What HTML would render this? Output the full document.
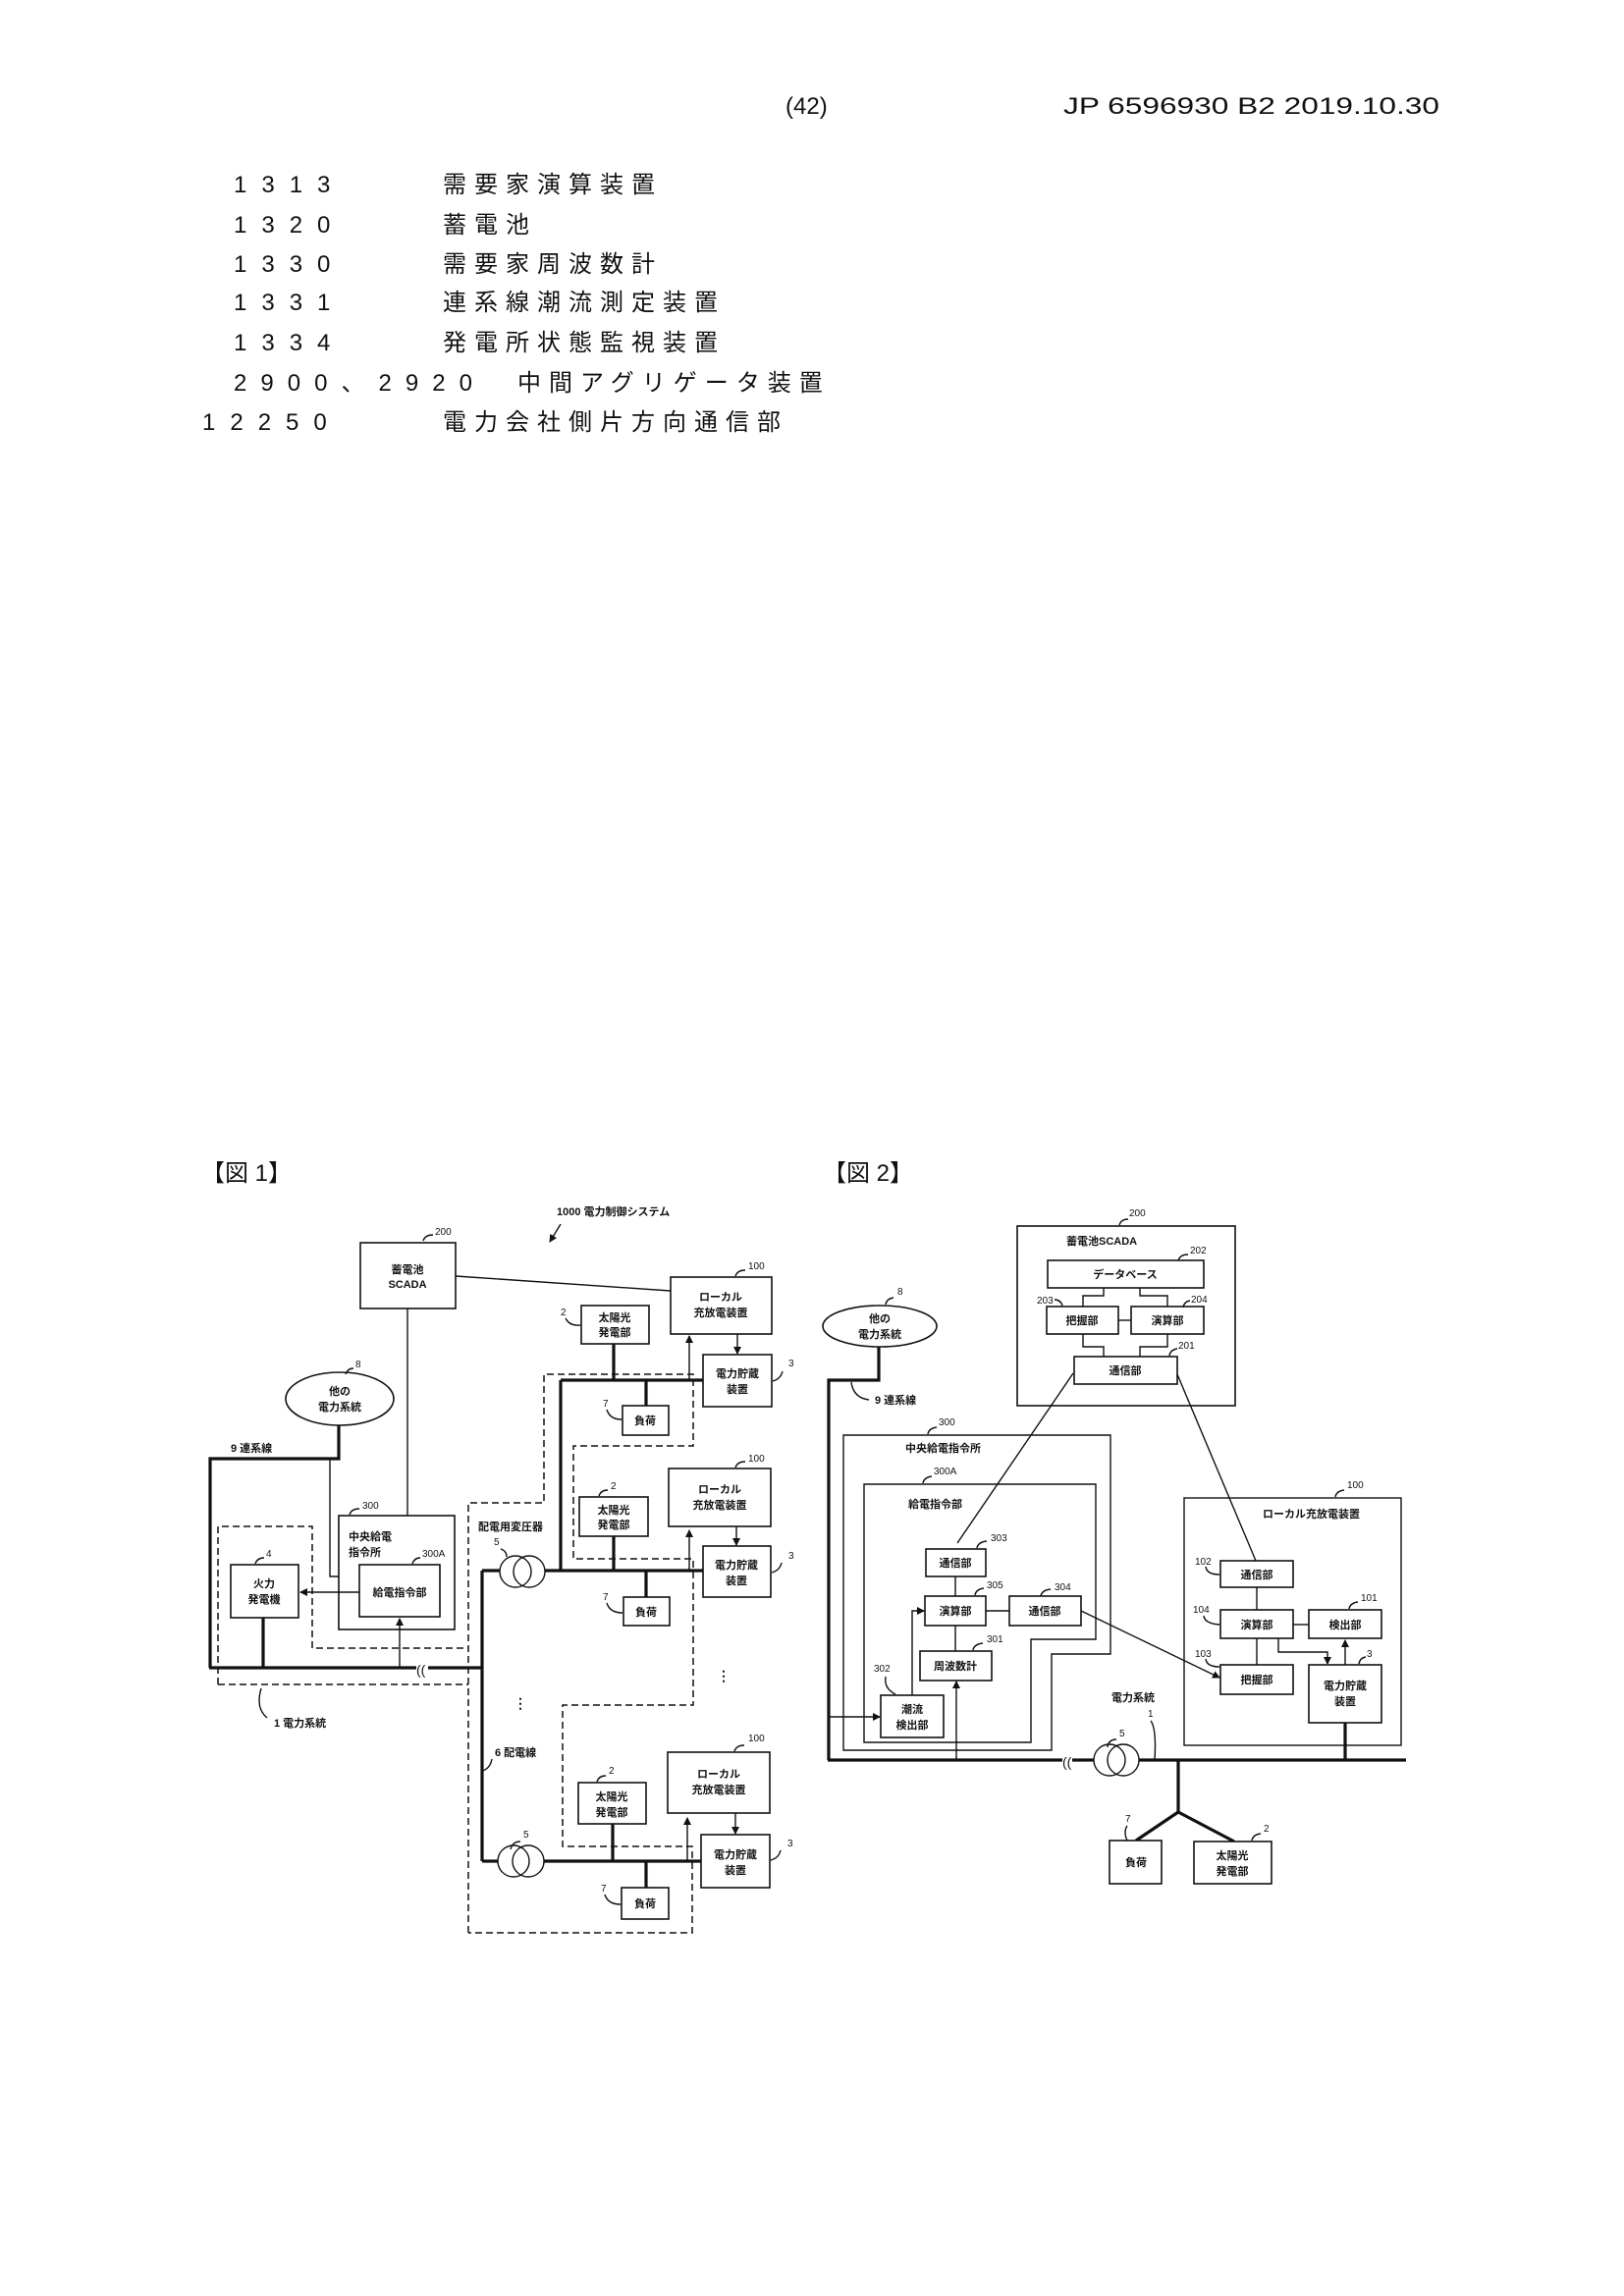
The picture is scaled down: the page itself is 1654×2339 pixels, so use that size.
<!DOCTYPE html>
<html><head><meta charset="utf-8"><style>
html,body{margin:0;padding:0;background:#fff}
svg{display:block}
text{font-family:"Liberation Sans","Noto Sans CJK JP",sans-serif;fill:#111}
.h{font-size:24px}
.r{font-size:24px;letter-spacing:8px}
.m{font-size:24px;letter-spacing:15px}
.d{font-size:11px;font-weight:bold}
.n{font-size:10px}
.t{stroke:#111;stroke-width:1.4;fill:none}
.k{stroke:#111;stroke-width:3.2;fill:none}
.b{stroke:#111;stroke-width:1.6;fill:#fff}
.ds{stroke:#111;stroke-width:1.5;fill:none;stroke-dasharray:7,4}
</style></head><body>
<svg width="1654" height="2339" viewBox="0 0 1654 2339" xmlns="http://www.w3.org/2000/svg">
<defs><marker id="a" markerWidth="8" markerHeight="8" refX="7" refY="4" orient="auto" markerUnits="userSpaceOnUse"><path d="M0,0 L8,4 L0,8 z" fill="#111"/></marker></defs>
<!-- header -->
<text class="h" x="800" y="116">(42)</text>
<text class="h" x="1083" y="116" textLength="383" lengthAdjust="spacingAndGlyphs">JP 6596930 B2 2019.10.30</text>
<g class="r">
<text class="m" x="238" y="196">1313</text><text x="451" y="196">需要家演算装置</text>
<text class="m" x="238" y="237">1320</text><text x="451" y="237">蓄電池</text>
<text class="m" x="238" y="277">1330</text><text x="451" y="277">需要家周波数計</text>
<text class="m" x="238" y="316">1331</text><text x="451" y="316">連系線潮流測定装置</text>
<text class="m" x="238" y="357">1334</text><text x="451" y="357">発電所状態監視装置</text>
<text x="238" y="398" textLength="251" lengthAdjust="spacing">2900、2920</text><text x="527" y="398">中間アグリゲータ装置</text>
<text class="m" x="206" y="438">12250</text><text x="451" y="438">電力会社側片方向通信部</text>
</g>
<text class="h" x="205" y="1203">【図 1】</text>
<text class="h" x="838" y="1203">【図 2】</text>

<!-- FIG 1 -->
<g>
<text class="d" x="567" y="1238" font-size="10">1000 電力制御システム</text>
<line class="t" x1="571" y1="1247" x2="560" y2="1265" marker-end="url(#a)"/>
<polyline class="ds" points="222,1716 222,1555 318,1555 318,1679 477,1679"/>
<polyline class="ds" points="222,1716 477,1716"/>
<polyline class="ds" points="477,1969 477,1531 554,1531 554,1400 706,1400 706,1473 584,1473 584,1588 706,1588 706,1737 573,1737 573,1881 705,1881 705,1969 477,1969"/>
<rect class="b" x="367" y="1266" width="97" height="67"/>
<text class="d" x="415" y="1297" text-anchor="middle">蓄電池</text>
<text class="d" x="415" y="1312" text-anchor="middle">SCADA</text>
<text class="n" x="443" y="1258">200</text><path class="t" d="M431,1264 q2,-6 10,-6"/>
<line class="t" x1="464" y1="1300" x2="683" y2="1315"/>
<line class="t" x1="415" y1="1333" x2="415" y2="1594" marker-end="url(#a)"/>
<ellipse class="b" cx="346" cy="1425" rx="55" ry="27"/>
<text class="d" x="346" y="1421" text-anchor="middle">他の</text>
<text class="d" x="346" y="1437" text-anchor="middle">電力系統</text>
<text class="n" x="362" y="1393">8</text><path class="t" d="M352,1400 q2,-6 8,-6"/>
<polyline class="k" points="345,1452 345,1486 214,1486 214,1699"/>
<text class="d" x="235" y="1479" font-size="10">9 連系線</text>
<polyline class="t" points="336,1486 336,1606 364,1606" marker-end="url(#a)"/>
<rect class="b" x="345" y="1544" width="118" height="116"/>
<text class="n" x="369" y="1537">300</text><path class="t" d="M356,1543 q2,-6 10,-6"/>
<text class="d" x="355" y="1569">中央給電</text><text class="d" x="355" y="1585">指令所</text>
<rect class="b" x="366" y="1594" width="82" height="53"/>
<text class="d" x="407" y="1626" text-anchor="middle">給電指令部</text>
<text class="n" x="430" y="1586">300A</text><path class="t" d="M420,1593 q2,-6 8,-6"/>
<line class="t" x1="366" y1="1622" x2="306" y2="1622" marker-end="url(#a)"/>
<rect class="b" x="235" y="1594" width="69" height="54"/>
<text class="d" x="269" y="1617" text-anchor="middle">火力</text><text class="d" x="269" y="1633" text-anchor="middle">発電機</text>
<text class="n" x="271" y="1586">4</text><path class="t" d="M260,1593 q2,-6 9,-6"/>
<line class="k" x1="268" y1="1648" x2="268" y2="1699"/>
<line class="k" x1="213" y1="1699" x2="424" y2="1699"/>
<line class="k" x1="436" y1="1699" x2="491" y2="1699"/>
<text x="424" y="1706" font-size="14">((</text>
<line class="t" x1="407" y1="1699" x2="407" y2="1649" marker-end="url(#a)"/>
<text class="d" x="279" y="1759" font-size="10">1 電力系統</text><path class="t" d="M266,1720 q-6,20 6,30"/>
<line class="k" x1="491" y1="1600" x2="491" y2="1896"/>
<line class="k" x1="491" y1="1600" x2="509" y2="1600"/>
<circle class="t" cx="525" cy="1601" r="16"/><circle class="t" cx="539" cy="1601" r="16"/>
<line class="k" x1="555" y1="1600" x2="716" y2="1600"/>
<line class="k" x1="571" y1="1406" x2="571" y2="1600"/>
<line class="k" x1="571" y1="1406" x2="716" y2="1406"/>
<text class="d" x="487" y="1559" font-size="10">配電用変圧器</text>
<text class="n" x="503" y="1574">5</text><path class="t" d="M510,1578 q6,2 6,8"/>
<text class="d" x="504" y="1789" font-size="10">6 配電線</text><path class="t" d="M491,1804 q8,-2 10,-12"/>
<text x="523" y="1740" font-size="14" font-weight="bold">⋮</text>
<text x="730" y="1712" font-size="14" font-weight="bold">⋮</text>
<line class="k" x1="491" y1="1896" x2="507" y2="1896"/>
<circle class="t" cx="523" cy="1896" r="16"/><circle class="t" cx="538" cy="1896" r="16"/>
<line class="k" x1="554" y1="1896" x2="714" y2="1896"/>
<text class="n" x="533" y="1872">5</text><path class="t" d="M520,1884 q2,-8 10,-8"/>
</g>
<g>
<rect class="b" x="683" y="1301" width="103" height="58"/>
<text class="d" x="734" y="1325" text-anchor="middle">ローカル</text><text class="d" x="734" y="1341" text-anchor="middle">充放電装置</text>
<text class="n" x="762" y="1293">100</text><path class="t" d="M749,1300 q2,-6 10,-6"/>
<rect class="b" x="592" y="1330" width="69" height="39"/>
<text class="d" x="626" y="1346" text-anchor="middle">太陽光</text><text class="d" x="626" y="1361" text-anchor="middle">発電部</text>
<text class="n" x="571" y="1340">2</text><path class="t" d="M576,1343 q4,8 15,7"/>
<line class="t" x1="751" y1="1359" x2="751" y2="1379" marker-end="url(#a)"/>
<rect class="b" x="716" y="1380" width="70" height="53"/>
<text class="d" x="751" y="1403" text-anchor="middle">電力貯蔵</text><text class="d" x="751" y="1419" text-anchor="middle">装置</text>
<text class="n" x="803" y="1392">3</text><path class="t" d="M787,1407 q8,-2 10,-10"/>
<line class="t" x1="702" y1="1406" x2="702" y2="1361" marker-end="url(#a)"/>
<line class="k" x1="625" y1="1369" x2="625" y2="1406"/>
<line class="k" x1="658" y1="1406" x2="658" y2="1432"/>
<rect class="b" x="634" y="1432" width="47" height="30"/>
<text class="d" x="657" y="1451" text-anchor="middle">負荷</text>
<text class="n" x="614" y="1433">7</text><path class="t" d="M618,1436 q3,10 15,10"/>
<rect class="b" x="681" y="1496" width="104" height="59"/>
<text class="d" x="733" y="1521" text-anchor="middle">ローカル</text><text class="d" x="733" y="1537" text-anchor="middle">充放電装置</text>
<text class="n" x="762" y="1489">100</text><path class="t" d="M749,1495 q2,-6 10,-6"/>
<rect class="b" x="590" y="1525" width="70" height="40"/>
<text class="d" x="625" y="1542" text-anchor="middle">太陽光</text><text class="d" x="625" y="1557" text-anchor="middle">発電部</text>
<text class="n" x="622" y="1517">2</text><path class="t" d="M610,1524 q2,-6 9,-6"/>
<line class="t" x1="750" y1="1555" x2="750" y2="1574" marker-end="url(#a)"/>
<rect class="b" x="716" y="1575" width="69" height="52"/>
<text class="d" x="750" y="1598" text-anchor="middle">電力貯蔵</text><text class="d" x="750" y="1614" text-anchor="middle">装置</text>
<text class="n" x="803" y="1588">3</text><path class="t" d="M786,1602 q8,-2 10,-10"/>
<line class="t" x1="702" y1="1600" x2="702" y2="1559" marker-end="url(#a)"/>
<line class="k" x1="625" y1="1565" x2="625" y2="1600"/>
<line class="k" x1="658" y1="1600" x2="658" y2="1627"/>
<rect class="b" x="635" y="1627" width="47" height="29"/>
<text class="d" x="658" y="1646" text-anchor="middle">負荷</text>
<text class="n" x="614" y="1630">7</text><path class="t" d="M618,1633 q3,10 16,10"/>
<rect class="b" x="680" y="1785" width="104" height="62"/>
<text class="d" x="732" y="1811" text-anchor="middle">ローカル</text><text class="d" x="732" y="1827" text-anchor="middle">充放電装置</text>
<text class="n" x="762" y="1774">100</text><path class="t" d="M748,1784 q2,-6 10,-6"/>
<rect class="b" x="589" y="1816" width="69" height="42"/>
<text class="d" x="623" y="1834" text-anchor="middle">太陽光</text><text class="d" x="623" y="1850" text-anchor="middle">発電部</text>
<text class="n" x="620" y="1807">2</text><path class="t" d="M608,1815 q2,-6 9,-6"/>
<line class="t" x1="749" y1="1847" x2="749" y2="1868" marker-end="url(#a)"/>
<rect class="b" x="714" y="1869" width="70" height="54"/>
<text class="d" x="749" y="1893" text-anchor="middle">電力貯蔵</text><text class="d" x="749" y="1909" text-anchor="middle">装置</text>
<text class="n" x="802" y="1881">3</text><path class="t" d="M785,1895 q8,-2 10,-10"/>
<line class="t" x1="700" y1="1896" x2="700" y2="1852" marker-end="url(#a)"/>
<line class="k" x1="624" y1="1858" x2="624" y2="1896"/>
<line class="k" x1="658" y1="1896" x2="658" y2="1923"/>
<rect class="b" x="633" y="1923" width="48" height="32"/>
<text class="d" x="657" y="1943" text-anchor="middle">負荷</text>
<text class="n" x="612" y="1927">7</text><path class="t" d="M616,1930 q3,10 16,10"/>
</g>

<!-- FIG 2 -->
<g>
<rect class="b" x="1036" y="1249" width="222" height="183"/>
<text class="n" x="1150" y="1239">200</text><path class="t" d="M1140,1248 q2,-6 9,-6"/>
<text class="d" x="1086" y="1268">蓄電池SCADA</text>
<rect class="b" x="1067" y="1284" width="159" height="28"/>
<text class="d" x="1146" y="1302" text-anchor="middle">データベース</text>
<text class="n" x="1212" y="1277">202</text><path class="t" d="M1200,1284 q2,-6 10,-6"/>
<polyline class="t" points="1124,1312 1124,1320 1103,1320 1103,1331"/>
<polyline class="t" points="1161,1312 1161,1320 1189,1320 1189,1331"/>
<rect class="b" x="1066" y="1331" width="73" height="28"/>
<text class="d" x="1102" y="1349" text-anchor="middle">把握部</text>
<rect class="b" x="1152" y="1331" width="74" height="28"/>
<text class="d" x="1189" y="1349" text-anchor="middle">演算部</text>
<text class="n" x="1056" y="1328">203</text><path class="t" d="M1074,1324 q6,0 8,6"/>
<text class="n" x="1213" y="1327">204</text><path class="t" d="M1205,1332 q1,-6 7,-7"/>
<line class="t" x1="1139" y1="1345" x2="1152" y2="1345"/>
<polyline class="t" points="1103,1359 1103,1372 1124,1372 1124,1382"/>
<polyline class="t" points="1189,1359 1189,1372 1161,1372 1161,1382"/>
<rect class="b" x="1094" y="1382" width="105" height="28"/>
<text class="d" x="1146" y="1400" text-anchor="middle">通信部</text>
<text class="n" x="1200" y="1374">201</text><path class="t" d="M1191,1381 q1,-6 8,-7"/>
<ellipse class="b" cx="896" cy="1351" rx="58" ry="21"/>
<text class="d" x="896" y="1347" text-anchor="middle">他の</text>
<text class="d" x="896" y="1363" text-anchor="middle">電力系統</text>
<text class="n" x="914" y="1319">8</text><path class="t" d="M902,1329 q1,-6 8,-7"/>
<polyline class="k" points="895,1372 895,1406 844,1406 844,1793"/>
<text class="d" x="891" y="1430" font-size="10">9 連系線</text><path class="t" d="M867,1408 q2,16 18,18"/>
<polygon class="t" points="859,1462 1131,1462 1131,1685 1071,1685 1071,1783 859,1783"/>
<text class="n" x="956" y="1452">300</text><path class="t" d="M945,1461 q1,-6 9,-7"/>
<text class="d" x="922" y="1479">中央給電指令所</text>
<polygon class="t" points="880,1512 1116,1512 1116,1670 1050,1670 1050,1775 880,1775"/>
<text class="n" x="951" y="1502">300A</text><path class="t" d="M940,1511 q1,-6 9,-7"/>
<text class="d" x="925" y="1536">給電指令部</text>
<rect class="b" x="943" y="1578" width="61" height="28"/>
<text class="d" x="973" y="1596" text-anchor="middle">通信部</text>
<text class="n" x="1009" y="1570">303</text><path class="t" d="M995,1577 q1,-6 10,-7"/>
<line class="t" x1="973" y1="1606" x2="973" y2="1626"/>
<rect class="b" x="942" y="1626" width="62" height="30"/>
<text class="d" x="973" y="1645" text-anchor="middle">演算部</text>
<text class="n" x="1005" y="1618">305</text><path class="t" d="M993,1625 q1,-6 9,-7"/>
<line class="t" x1="1004" y1="1641" x2="1028" y2="1641"/>
<rect class="b" x="1028" y="1626" width="73" height="30"/>
<text class="d" x="1064" y="1645" text-anchor="middle">通信部</text>
<text class="n" x="1074" y="1620">304</text><path class="t" d="M1060,1626 q1,-6 10,-7"/>
<line class="t" x1="973" y1="1656" x2="973" y2="1682"/>
<rect class="b" x="937" y="1682" width="73" height="30"/>
<text class="d" x="973" y="1701" text-anchor="middle">周波数計</text>
<text class="n" x="1005" y="1673">301</text><path class="t" d="M991,1681 q1,-6 10,-7"/>
<rect class="b" x="897" y="1727" width="64" height="43"/>
<text class="d" x="929" y="1745" text-anchor="middle">潮流</text><text class="d" x="929" y="1761" text-anchor="middle">検出部</text>
<text class="n" x="890" y="1703">302</text><path class="t" d="M902,1708 q-2,12 10,18"/>
<polyline class="t" points="929,1727 929,1641 941,1641" marker-end="url(#a)"/>
<line class="t" x1="844" y1="1749" x2="896" y2="1749" marker-end="url(#a)"/>
<line class="t" x1="974" y1="1793" x2="974" y2="1713" marker-end="url(#a)"/>
<line class="t" x1="975" y1="1572" x2="1093" y2="1399"/>
<line class="t" x1="1199" y1="1400" x2="1279" y2="1590"/>
<line class="t" x1="1101" y1="1641" x2="1242" y2="1709" marker-end="url(#a)"/>
<rect class="t" x="1206" y="1526" width="221" height="252"/>
<text class="n" x="1372" y="1516">100</text><path class="t" d="M1360,1525 q1,-6 9,-7"/>
<text class="d" x="1286" y="1546">ローカル充放電装置</text>
<rect class="b" x="1243" y="1590" width="74" height="27"/>
<text class="d" x="1280" y="1608" text-anchor="middle">通信部</text>
<text class="n" x="1217" y="1594">102</text><path class="t" d="M1228,1596 q1,8 14,8"/>
<line class="t" x1="1280" y1="1617" x2="1280" y2="1640"/>
<rect class="b" x="1243" y="1640" width="74" height="29"/>
<text class="d" x="1280" y="1659" text-anchor="middle">演算部</text>
<text class="n" x="1215" y="1643">104</text><path class="t" d="M1226,1646 q1,8 16,9"/>
<line class="t" x1="1317" y1="1655" x2="1333" y2="1655"/>
<rect class="b" x="1333" y="1640" width="74" height="29"/>
<text class="d" x="1370" y="1659" text-anchor="middle">検出部</text>
<text class="n" x="1386" y="1631">101</text><path class="t" d="M1374,1639 q1,-6 9,-7"/>
<line class="t" x1="1280" y1="1669" x2="1280" y2="1696"/>
<polyline class="t" points="1302,1669 1302,1683 1352,1683 1352,1695" marker-end="url(#a)"/>
<rect class="b" x="1243" y="1696" width="74" height="30"/>
<text class="d" x="1280" y="1715" text-anchor="middle">把握部</text>
<text class="n" x="1217" y="1688">103</text><path class="t" d="M1228,1690 q1,8 14,8"/>
<rect class="b" x="1333" y="1696" width="74" height="59"/>
<text class="d" x="1370" y="1721" text-anchor="middle">電力貯蔵</text><text class="d" x="1370" y="1737" text-anchor="middle">装置</text>
<text class="n" x="1392" y="1688">3</text><path class="t" d="M1384,1695 q1,-6 7,-7"/>
<line class="t" x1="1370" y1="1696" x2="1370" y2="1671" marker-end="url(#a)"/>
<line class="k" x1="1370" y1="1755" x2="1370" y2="1793"/>
<line class="k" x1="843" y1="1793" x2="1082" y2="1793"/>
<text x="1082" y="1800" font-size="14">((</text>
<line class="k" x1="1092" y1="1793" x2="1114" y2="1793"/>
<circle class="t" cx="1130" cy="1793" r="16"/><circle class="t" cx="1144" cy="1793" r="16"/>
<line class="k" x1="1160" y1="1793" x2="1432" y2="1793"/>
<text class="n" x="1140" y="1769">5</text><path class="t" d="M1128,1780 q1,-8 9,-8"/>
<text class="d" x="1132" y="1733">電力系統</text>
<text class="n" x="1169" y="1749">1</text><path class="t" d="M1172,1753 q6,8 4,40"/>
<polyline class="k" points="1200,1793 1200,1846 1157,1875"/>
<line class="k" x1="1200" y1="1846" x2="1257" y2="1876"/>
<rect class="b" x="1130" y="1875" width="53" height="44"/>
<text class="d" x="1157" y="1901" text-anchor="middle">負荷</text>
<text class="n" x="1146" y="1856">7</text><path class="t" d="M1148,1860 q-4,6 0,15"/>
<rect class="b" x="1216" y="1876" width="79" height="43"/>
<text class="d" x="1255" y="1894" text-anchor="middle">太陽光</text><text class="d" x="1255" y="1910" text-anchor="middle">発電部</text>
<text class="n" x="1287" y="1866">2</text><path class="t" d="M1275,1875 q1,-6 9,-7"/>
</g>
</svg>
</body></html>
